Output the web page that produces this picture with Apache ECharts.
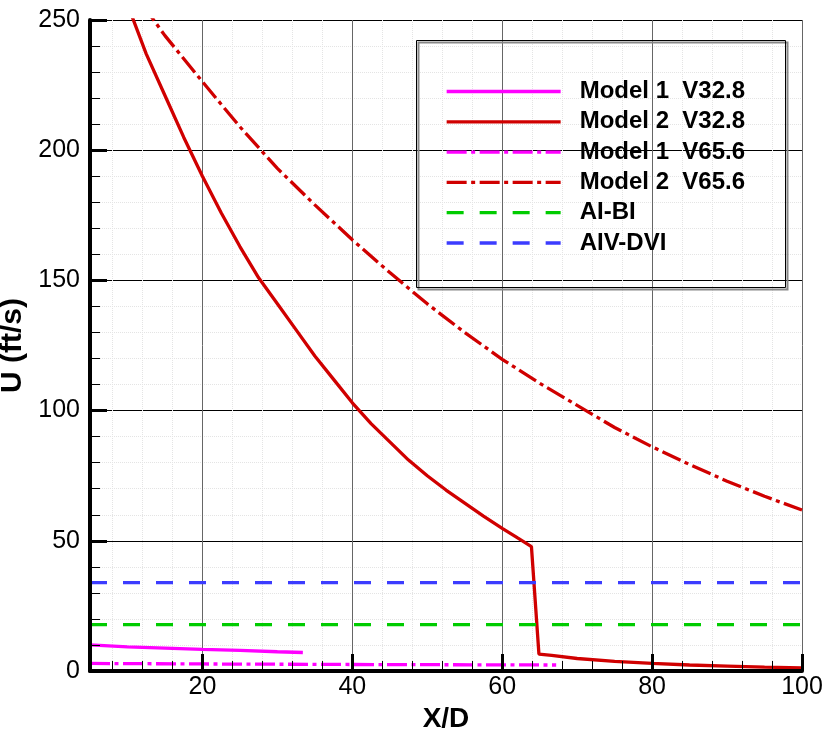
<!DOCTYPE html>
<html>
<head>
<meta charset="utf-8">
<script src="https://cdn.jsdelivr.net/npm/echarts@6/dist/echarts.min.js"></script>
<style>html,body{margin:0;padding:0;background:#fff;}#c{width:827px;height:731px;}</style>
</head>
<body>
<div id="c"></div>
<script>
// ---- data ----
var xMin = 5, xMax = 100, yMin = 0, yMax = 250;
var xMajorTicks = [20, 40, 60, 80, 100];
var xMinorTicks = [8, 12, 16, 24, 28, 32, 36, 44, 48, 52, 56, 64, 68, 72, 76, 84, 88, 92, 96];

var m1v32X = [5, 10, 15, 20, 25, 30, 33.4];
var m1v32Y = [10.0, 9.3, 8.8, 8.3, 7.9, 7.4, 7.1];

var m2v32X = [10, 12.5, 15, 17.5, 20, 22.5, 25, 27.5, 30, 32.5, 35, 37.5, 40, 42.5, 45, 47.5, 50, 52.5, 55, 57.5, 60, 62, 63.9, 64.9, 66.6, 70, 75, 80, 85, 90, 95, 100];
var m2v32Y = [256, 237, 221, 205, 190, 176, 163, 151, 141, 131, 121, 112, 103, 95, 88, 81, 75, 69.5, 64.5, 59.5, 54.8, 51.2, 47.8, 6.5, 6.0, 4.8, 3.7, 2.9, 2.3, 1.9, 1.5, 1.2];

var m1v65X = [5, 20, 40, 67.2];
var m1v65Y = [2.9, 2.7, 2.5, 2.3];

var m2v65X = [12, 15, 20, 25, 30, 35, 40, 45, 50, 55, 60, 65, 70, 75, 80, 85, 90, 95, 100];
var m2v65Y = [256, 244, 226.3, 209, 193, 179, 165.6, 153, 141, 130, 119.7, 110.5, 102, 93.5, 86.1, 79.3, 72.9, 67.1, 61.8];

var aibiX = [5, 100];
var aibiY = [17.8, 17.8];

var aivdviX = [5, 100];
var aivdviY = [33.9, 33.9];

function pairs(xs, ys) { return xs.map(function (x, i) { return [x, ys[i]]; }); }

var FONT = 'Liberation Sans, Arial, sans-serif';
var dashDot = [20, 4.5, 4, 4.5];

function line(name, xs, ys, color, type) {
  return {
    name: name, type: 'line', data: pairs(xs, ys), xAxisIndex: 0, yAxisIndex: 0,
    symbol: 'none', showSymbol: false, smooth: false, clip: true, animation: false,
    lineStyle: { color: color, width: 3.3, type: type },
    itemStyle: { color: color }
  };
}

var hiddenX = { type: 'value', min: xMin, max: xMax, position: 'bottom',
  axisLine: { show: false, onZero: false }, axisLabel: { show: false } };

var chart = echarts.init(document.getElementById('c'), null, { renderer: 'canvas' });
chart.setOption({
  animation: false,
  backgroundColor: '#fff',
  textStyle: { fontFamily: FONT },
  grid: { left: 90, right: 25, top: 20, bottom: 60, containLabel: false, outerBoundsMode: 'none' },
  xAxis: [{
    // main axis: line, major ticks, labels, name
    type: 'value', min: xMin, max: xMax, position: 'bottom', z: 6,
    name: 'X/D', nameLocation: 'middle', nameGap: 27,
    nameTextStyle: { fontFamily: FONT, fontSize: 28, fontWeight: 'bold', color: '#000' },
    axisLine: { show: true, onZero: false, lineStyle: { color: '#000', width: 4 } },
    axisTick: { show: true, inside: true, length: 17, lineStyle: { color: '#000', width: 3 }, customValues: xMajorTicks },
    axisLabel: { show: true, customValues: xMajorTicks, fontFamily: FONT, fontSize: 25, color: '#000', margin: 4 },
    splitLine: { show: false }
  }, Object.assign({}, hiddenX, {
    // minor ticks
    z: 6,
    axisTick: { show: true, inside: true, length: 10, lineStyle: { color: '#000', width: 1 }, customValues: xMinorTicks },
    splitLine: { show: false }
  }), Object.assign({}, hiddenX, {
    // major vertical grid lines
    z: 0,
    axisTick: { show: false, customValues: xMajorTicks },
    splitLine: { show: true, lineStyle: { color: '#666', width: 1 } }
  }), Object.assign({}, hiddenX, {
    // minor dotted vertical grid lines
    z: 0,
    axisTick: { show: false, customValues: xMinorTicks },
    splitLine: { show: true, lineStyle: { color: '#e4e4e4', width: 1, type: 'dotted' } }
  })],
  yAxis: [{
    type: 'value', min: yMin, max: yMax, interval: 50, z: 6,
    name: 'U (ft/s)', nameLocation: 'middle', nameGap: 53,
    nameTextStyle: { fontFamily: FONT, fontSize: 30, fontWeight: 'bold', color: '#000' },
    axisLine: { show: true, onZero: false, lineStyle: { color: '#000', width: 4 } },
    axisTick: { show: true, inside: true, length: 17, lineStyle: { color: '#000', width: 3 } },
    minorTick: { show: true, splitNumber: 5, length: 10, lineStyle: { color: '#000', width: 1 } },
    axisLabel: { fontFamily: FONT, fontSize: 25, color: '#000', margin: 10 },
    splitLine: { show: false }
  }, {
    type: 'value', min: yMin, max: yMax, interval: 50, position: 'left', z: 0,
    axisLine: { show: false, onZero: false }, axisTick: { show: false }, axisLabel: { show: false },
    splitLine: { show: true, lineStyle: { color: '#000', width: 1 } },
    minorTick: { show: false, splitNumber: 5 },
    minorSplitLine: { show: true, lineStyle: { color: '#e4e4e4', width: 1, type: 'dotted' } }
  }],
  legend: {
    show: true, orient: 'vertical', left: 445, top: 76.5, padding: 0,
    itemWidth: 114, itemHeight: 14, itemGap: 0.3,
    itemStyle: { opacity: 0 },
    lineStyle: { width: 3.3 },
    textStyle: { fontFamily: FONT, fontSize: 24, fontWeight: 'bold', color: '#000', lineHeight: 30, padding: [0, 0, 0, 14] },
    data: ['Model 1  V32.8', 'Model 2  V32.8', 'Model 1  V65.6', 'Model 2  V65.6', 'AI-BI', 'AIV-DVI']
  },
  graphic: [
    { type: 'rect', left: 416, top: 40, shape: { width: 369, height: 247 }, style: { fill: 'none', stroke: '#888', lineWidth: 2 }, z: 10, silent: true },
    { type: 'rect', left: 414, top: 38, shape: { width: 369, height: 247 }, style: { fill: 'none', stroke: '#000', lineWidth: 1 }, z: 11, silent: true }
  ],
  series: [
    line('Model 1  V32.8', m1v32X, m1v32Y, '#ff00ff', 'solid'),
    line('Model 2  V32.8', m2v32X, m2v32Y, '#d00000', 'solid'),
    line('Model 1  V65.6', m1v65X, m1v65Y, '#ff00ff', dashDot),
    line('Model 2  V65.6', m2v65X, m2v65Y, '#d00000', dashDot),
    line('AI-BI', aibiX, aibiY, '#00cc00', [17, 16]),
    line('AIV-DVI', aivdviX, aivdviY, '#3c3cff', [17, 16])
  ]
});
</script>
</body>
</html>
